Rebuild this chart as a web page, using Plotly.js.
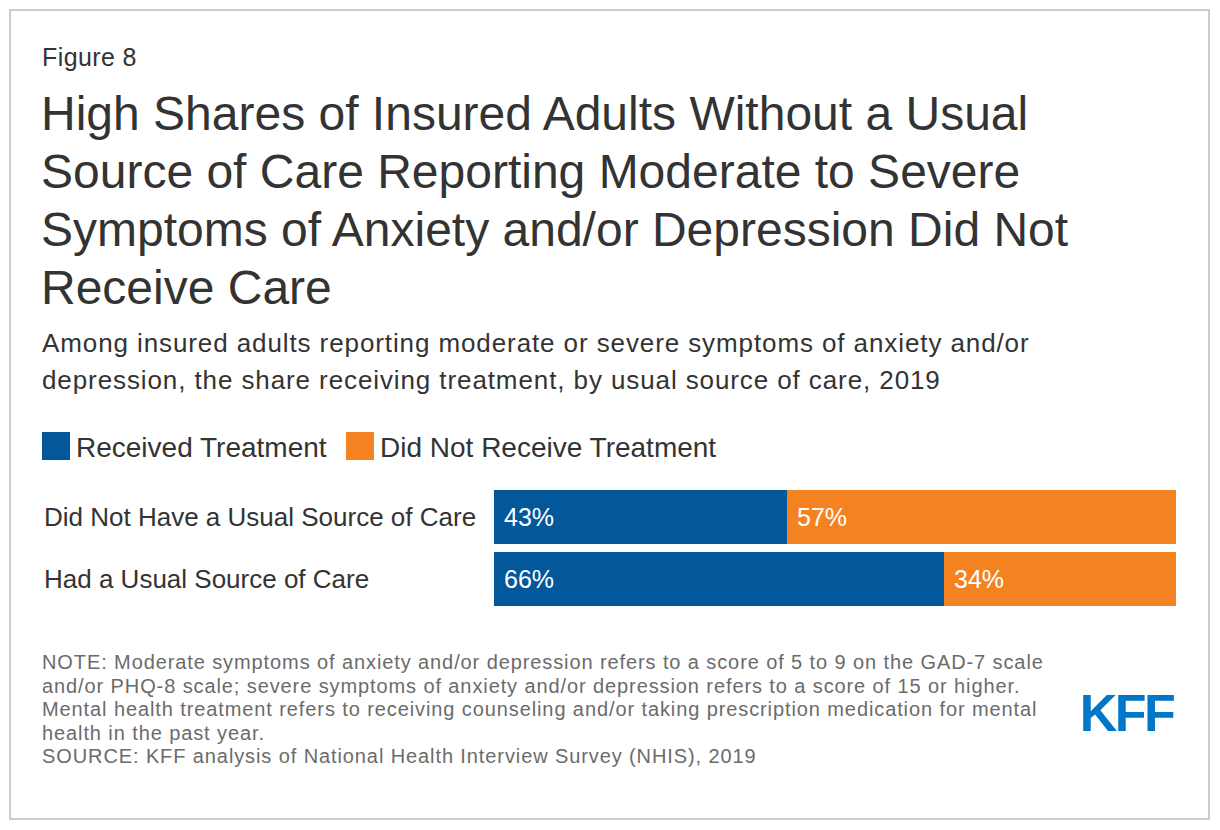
<!DOCTYPE html>
<html>
<head>
<meta charset="utf-8">
<script src="https://cdn.plot.ly/plotly-3.0.1.min.js"></script>
<style>
  html, body { margin: 0; padding: 0; background: #ffffff; }
  #chart { width: 1220px; height: 830px; }
</style>
</head>
<body>
<div id="chart"></div>
<script>
// ---- data ----
const categories = ["Did Not Have a Usual Source of Care", "Had a Usual Source of Care"];
const seriesNames = ["Received Treatment", "Did Not Receive Treatment"];
const receivedValues = [43, 66];
const notReceivedValues = [57, 34];
const seriesColors = ["#02589A", "#F58220"];

const figureLabel = "Figure 8";
const titleLines = [
  "High Shares of Insured Adults Without a Usual",
  "Source of Care Reporting Moderate to Severe",
  "Symptoms of Anxiety and/or Depression Did Not",
  "Receive Care"
];
const subtitleLines = [
  "Among insured adults reporting moderate or severe symptoms of anxiety and/or",
  "depression, the share receiving treatment, by usual source of care, 2019"
];
const noteLines = [
  "NOTE: Moderate symptoms of anxiety and/or depression refers to a score of 5 to 9 on the GAD-7 scale",
  "and/or PHQ-8 scale; severe symptoms of anxiety and/or depression refers to a score of 15 or higher.",
  "Mental health treatment refers to receiving counseling and/or taking prescription medication for mental",
  "health in the past year.",
  "SOURCE: KFF analysis of National Health Interview Survey (NHIS), 2019"
];
const logoText = "KFF";

// ---- layout helpers (pixel -> paper) ----
const W = 1220, H = 830;
const PL = 494, PR = 1176, PT = 486, PB = 610;
const px = x => (x - PL) / (PR - PL);
const py = y => (PB - y) / (PB - PT);
const FONT = "Liberation Sans, Arial, Helvetica, sans-serif";

const traces = [
  {
    type: "bar", orientation: "h", name: seriesNames[0],
    y: categories, x: receivedValues,
    marker: { color: seriesColors[0] }, hoverinfo: "x+y+name"
  },
  {
    type: "bar", orientation: "h", name: seriesNames[1],
    y: categories, x: notReceivedValues,
    marker: { color: seriesColors[1] }, hoverinfo: "x+y+name"
  }
];

const annotations = [];
const spacing = [];   // letter-spacing (px) for each annotation, same order
const anchorSide = []; // which edge stays fixed when spacing is applied
const add = (a, ls) => { annotations.push(a); spacing.push(ls || 0); anchorSide.push(a.xanchor); };
const txt = (text, x, y, size, color) => ({
  text: text, xref: "paper", yref: "paper", x: px(x), y: py(y),
  xanchor: "left", yanchor: "middle", showarrow: false,
  font: { family: FONT, size: size, color: color }
});

add(txt(figureLabel, 40, 57, 25, "#333333"), 0.4);
titleLines.forEach((t, i) => add(txt(t, 39, 113 + 58 * i, 48, "#333333"), 0));
subtitleLines.forEach((t, i) => add(txt(t, 40, 343 + 37 * i, 26, "#333333"), 0.9));
noteLines.forEach((t, i) => add(txt(t, 40, 662 + 23.5 * i, 20, "#6b6b6b"), 0.9));

// legend (custom)
const legendX = [42, 346];
const shapes = [];
seriesNames.forEach((n, i) => {
  shapes.push({
    type: "rect", xref: "paper", yref: "paper",
    x0: px(legendX[i]), x1: px(legendX[i] + 28), y0: py(460), y1: py(432),
    fillcolor: seriesColors[i], line: { width: 0 }
  });
  add(txt(n, legendX[i] + 32, 447, 28, "#333333"), 0);
});

// category labels
categories.forEach(c => add({
  text: c, xref: "paper", yref: "y", x: px(42), y: c,
  xanchor: "left", yanchor: "middle", showarrow: false,
  font: { family: FONT, size: 26, color: "#333333" }
}, 0));

// data labels
categories.forEach((c, i) => {
  add({
    text: receivedValues[i] + "%", xref: "x", yref: "y", x: 0, y: c,
    xanchor: "left", yanchor: "middle", xshift: 8, showarrow: false,
    font: { family: FONT, size: 25, color: "#ffffff" }
  }, 0);
  add({
    text: notReceivedValues[i] + "%", xref: "x", yref: "y", x: receivedValues[i], y: c,
    xanchor: "left", yanchor: "middle", xshift: 8, showarrow: false,
    font: { family: FONT, size: 25, color: "#ffffff" }
  }, 0);
});

// logo
add({
  text: "<b>" + logoText + "</b>", xref: "paper", yref: "paper",
  x: px(1176), y: py(713), xanchor: "right", yanchor: "middle", showarrow: false,
  font: { family: FONT, size: 52, color: "#0077C8" }
}, -2.5);

// outer border
shapes.push({
  type: "rect", xref: "paper", yref: "paper",
  x0: px(10), x1: px(1209), y0: py(819), y1: py(10),
  line: { color: "#cccccc", width: 2 }, fillcolor: "rgba(0,0,0,0)", layer: "below"
});

const layout = {
  width: W, height: H,
  margin: { l: PL, r: W - PR, t: PT, b: H - PB, pad: 0 },
  paper_bgcolor: "#ffffff", plot_bgcolor: "#ffffff",
  barmode: "stack", bargap: 0.13,
  showlegend: false,
  xaxis: { range: [0, 100], visible: false, fixedrange: true },
  yaxis: { autorange: "reversed", visible: false, fixedrange: true, categoryorder: "array", categoryarray: categories },
  annotations: annotations,
  shapes: shapes,
  font: { family: FONT }
};

Plotly.newPlot("chart", traces, layout, { displayModeBar: false, staticPlot: true }).then(gd => {
  gd.querySelectorAll("g.annotation").forEach(g => {
    const idx = +g.getAttribute("data-index");
    const ls = spacing[idx];
    if (!ls) return;
    const t = g.querySelector("text.annotation-text");
    if (!t) return;
    const b0 = t.getBBox();
    t.style.letterSpacing = ls + "px";
    const b1 = t.getBBox();
    let dx;
    if (anchorSide[idx] === "right") dx = (b0.x + b0.width) - (b1.x + b1.width);
    else dx = b0.x - b1.x;
    const x0 = parseFloat(t.getAttribute("x")) || 0;
    t.setAttribute("x", x0 + dx);
    t.querySelectorAll("tspan[x]").forEach(s => {
      s.setAttribute("x", (parseFloat(s.getAttribute("x")) || 0) + dx);
    });
  });
});
</script>
</body>
</html>
